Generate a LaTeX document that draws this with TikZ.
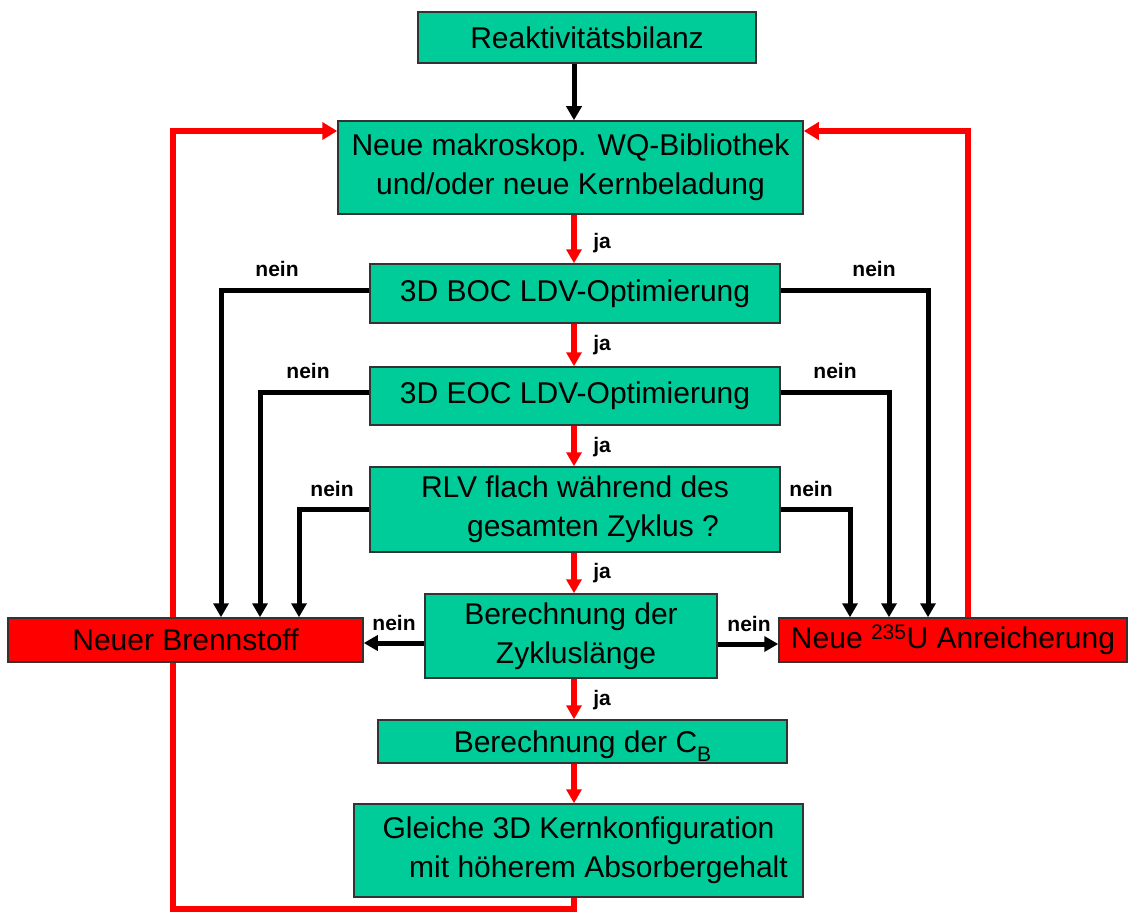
\documentclass[tikz,border=0pt]{standalone}
\usepackage{fontspec}
\setmainfont{Liberation Sans}
\usetikzlibrary{arrows.meta,backgrounds,calc}
\definecolor{boxgreen}{RGB}{0,204,153}
\definecolor{boxred}{RGB}{255,0,0}
\tikzset{
  gbox/.style={draw=black!80, line width=1.5pt, fill=boxgreen, align=center, inner sep=0pt,
    font=\fontsize{30}{39}\selectfont},
  rbox/.style={draw=black!80, line width=1.5pt, fill=boxred, align=center, inner sep=0pt,
    font=\fontsize{30}{39}\selectfont},
  yes/.style={draw=boxred, line width=5.5pt, -{Triangle[length=14pt,width=15pt]}},
  no/.style={draw=black, line width=5pt, -{Triangle[length=14pt,width=15pt]}},
  loop/.style={draw=boxred, line width=6.5pt, -{Triangle[length=15pt,width=17pt]}},
  lbl/.style={font=\fontsize{21}{24}\selectfont\bfseries, inner sep=0pt}
}
\begin{document}
\begin{tikzpicture}[x=1pt,y=-1pt]
\useasboundingbox (0,0) rectangle (1129,912);

% boxes
\node[gbox, minimum width=338pt, minimum height=51pt] (reak) at (587,37.5) {Reaktivitätsbilanz};
\node[gbox, minimum width=465pt, minimum height=93pt] (makro) at (570.5,167.5) {Neue makroskop. WQ-Bibliothek\\und/oder neue Kernbeladung};
\node[gbox, minimum width=410pt, minimum height=59pt] (boc) at (575,293.5) {3D BOC LDV-Optimierung};
\node[gbox, minimum width=410pt, minimum height=58pt] (eoc) at (575,396) {3D EOC LDV-Optimierung};
\node[gbox, minimum width=410pt, minimum height=85pt] (rlv) at (575,509.5) {RLV flach während des\\\hspace*{36pt}gesamten Zyklus ?};
\node[gbox, minimum width=292pt, minimum height=84pt] (zykl) at (571,636) {Berechnung der\\\hspace*{10pt}Zykluslänge};
\node[gbox, minimum width=409pt, minimum height=43pt, text depth=0pt] (cb) at (582.5,741.5) {Berechnung der C\raisebox{-9pt}{\fontsize{21}{21}\selectfont B}};
\node[gbox, minimum width=449pt, minimum height=93pt] (gleich) at (578.5,850.5) {Gleiche 3D Kernkonfiguration\\\hspace*{40pt}mit höherem Absorbergehalt};
\node[rbox, minimum width=355pt, minimum height=44pt] (brenn) at (185.5,640) {Neuer Brennstoff};
\node[rbox, minimum width=348pt, minimum height=44pt] (uran) at (953,640) {Neue \textsuperscript{235}U Anreicherung};

% helper coordinates
\coordinate (col) at (574,0);
\coordinate (botC) at (574,909);
\coordinate (botL) at (173,909);
\coordinate (topL) at (173,131);
\coordinate (topR) at (968,131);
\coordinate (l1) at (221,290);
\coordinate (l2) at (260,392);
\coordinate (l3) at (299,509);
\coordinate (r1) at (928,290);
\coordinate (r2) at (889,392);
\coordinate (r3) at (850,509);

% background and loop behind the boxes
\begin{scope}[on background layer]
\fill[white] (0,0) rectangle (1129,912);
\draw[loop] (gleich.south -| botC) -- (botC) -- (botL) -- (topL) -- (topL -| makro.west);
\end{scope}
\draw[loop] (uran.north -| topR) -- (topR) -- (topR -| makro.east);

% main chain
\draw[no] (reak.south -| col) -- (makro.north -| col);
\draw[yes] (makro.south -| col) -- (boc.north -| col);
\draw[yes] (boc.south -| col) -- (eoc.north -| col);
\draw[yes] (eoc.south -| col) -- (rlv.north -| col);
\draw[yes] (rlv.south -| col) -- (zykl.north -| col);
\draw[yes] (zykl.south -| col) -- (cb.north -| col);
\draw[yes] (cb.south -| col) -- (gleich.north -| col);

% nein branches
\draw[no] (boc.west |- l1) -- (l1) -- (brenn.north -| l1);
\draw[no] (eoc.west |- l2) -- (l2) -- (brenn.north -| l2);
\draw[no] (rlv.west |- l3) -- (l3) -- (brenn.north -| l3);
\draw[no] (boc.east |- r1) -- (r1) -- (uran.north -| r1);
\draw[no] (eoc.east |- r2) -- (r2) -- (uran.north -| r2);
\draw[no] (rlv.east |- r3) -- (r3) -- (uran.north -| r3);
\draw[no] ([yshift=-7pt]zykl.west) -- ([yshift=-7pt]zykl.west -| brenn.east);
\draw[no] ([yshift=-8pt]zykl.east) -- ([yshift=-8pt]zykl.east -| uran.west);

% labels
\node[lbl] (ja1) at (602,243) {ja};
\node[lbl] (ja2) at (602,345) {ja};
\node[lbl] (ja3) at (602,447) {ja};
\node[lbl] (ja4) at (602,573) {ja};
\node[lbl] (ja5) at (602,700) {ja};
\node[lbl] (n1) at (277,269) {nein};
\node[lbl] (n2) at (308,371) {nein};
\node[lbl] (n3) at (332,489) {nein};
\node[lbl] (n4) at (394,623) {nein};
\node[lbl] (n5) at (874,269) {nein};
\node[lbl] (n6) at (835,371) {nein};
\node[lbl] (n7) at (811,489) {nein};
\node[lbl] (n8) at (749,624) {nein};
\end{tikzpicture}
\end{document}
